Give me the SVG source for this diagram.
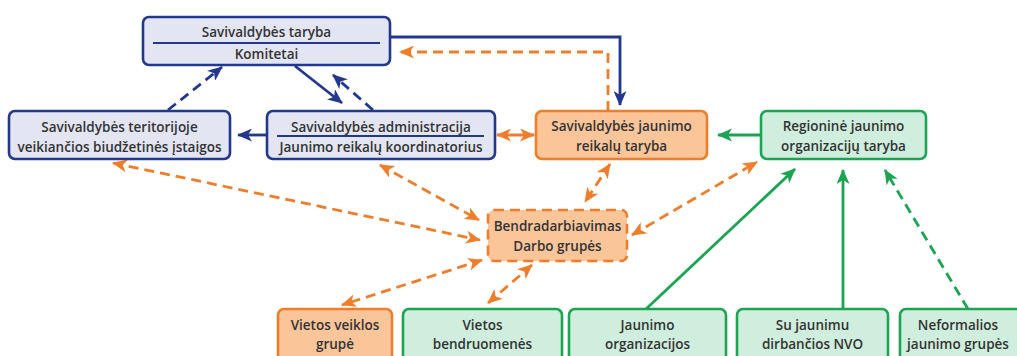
<svg xmlns="http://www.w3.org/2000/svg" width="1017" height="356" viewBox="0 0 1017 356">
<defs>
<style>
.t{font-family:"Open Sans","Noto Sans","Liberation Sans",sans-serif;font-weight:600;font-size:13.5px;fill:#333333;text-anchor:middle}
.bb{fill:#e3e5f3;stroke:#22388f;stroke-width:2.6}
.ob{fill:#fbc59a;stroke:#f07d2a;stroke-width:2.6}
.gb{fill:#cfeedd;stroke:#1ba552;stroke-width:2.6}
.bl{stroke:#22388f;stroke-width:2.8;fill:none}
.ol{stroke:#f07d2a;stroke-width:2.8;fill:none}
.gl{stroke:#1ba552;stroke-width:2.8;fill:none}
.d{stroke-dasharray:10 6}
</style>
<marker id="ab" viewBox="0 0 15 13" refX="14" refY="6.5" markerWidth="15" markerHeight="13" markerUnits="userSpaceOnUse" orient="auto-start-reverse"><path d="M0,0 L15,6.5 L0,13 L4,6.5 z" fill="#22388f"/></marker>
<marker id="ao" viewBox="0 0 15 13" refX="14" refY="6.5" markerWidth="15" markerHeight="13" markerUnits="userSpaceOnUse" orient="auto-start-reverse"><path d="M0,0 L15,6.5 L0,13 L4,6.5 z" fill="#f07d2a"/></marker>
<marker id="ag" viewBox="0 0 15 13" refX="14" refY="6.5" markerWidth="15" markerHeight="13" markerUnits="userSpaceOnUse" orient="auto-start-reverse"><path d="M0,0 L15,6.5 L0,13 L4,6.5 z" fill="#1ba552"/></marker>
</defs>
<rect width="1017" height="356" fill="#ffffff"/>
<g id="connectors">
<path class="bl" d="M390,37 H620 V105" marker-end="url(#ab)"/>
<path class="ol d" d="M608,111 V52 H400" marker-end="url(#ao)"/>
<path class="bl" d="M295,66 L342,103" marker-end="url(#ab)"/>
<path class="bl d" d="M373,110 L333,75" marker-end="url(#ab)"/>
<path class="bl d" d="M168,110 L222,67" marker-end="url(#ab)"/>
<path class="bl" d="M267,135 H238" marker-end="url(#ab)"/>
<path class="ol" d="M497,135 H534" marker-start="url(#ao)" marker-end="url(#ao)"/>
<path class="gl" d="M761,135 H718" marker-end="url(#ag)"/>
<path class="ol d" d="M113,163 L480,240" marker-start="url(#ao)" marker-end="url(#ao)"/>
<path class="ol d" d="M380,165 L479,220" marker-start="url(#ao)" marker-end="url(#ao)"/>
<path class="ol d" d="M482,260 L342,305" marker-start="url(#ao)" marker-end="url(#ao)"/>
<path class="ol d" d="M532,265 L488,303" marker-start="url(#ao)" marker-end="url(#ao)"/>
<path class="ol d" d="M610,164 L585,202" marker-start="url(#ao)" marker-end="url(#ao)"/>
<path class="ol d" d="M632,235 L757,162" marker-start="url(#ao)" marker-end="url(#ao)"/>
<path class="gl" d="M646,309 L795,169" marker-end="url(#ag)"/>
<path class="gl" d="M843,309 V170" marker-end="url(#ag)"/>
<path class="gl d" d="M968,309 L885,170" marker-end="url(#ag)"/>
</g>
<g id="taryba">
<rect class="bb" x="143" y="17" width="247" height="48" rx="6"/>
<line x1="153" y1="43" x2="380" y2="43" stroke="#22388f" stroke-width="2.2"/>
<text class="t" x="266.5" y="37">Savivaldybės taryba</text>
<text class="t" x="266.5" y="59">Komitetai</text>
</g>
<g id="istaigos">
<rect class="bb" x="9" y="111" width="221" height="48" rx="6"/>
<text class="t" x="119.5" y="132">Savivaldybės teritorijoje</text>
<text class="t" x="119.5" y="152">veikiančios biudžetinės įstaigos</text>
</g>
<g id="administracija">
<rect class="bb" x="267" y="111" width="228" height="48" rx="6"/>
<line x1="277" y1="136" x2="484" y2="136" stroke="#22388f" stroke-width="2.2"/>
<text class="t" x="381" y="132">Savivaldybės administracija</text>
<text class="t" x="381" y="152">Jaunimo reikalų koordinatorius</text>
</g>
<g id="jaunimo-taryba">
<rect class="ob" x="536" y="111" width="171" height="48" rx="6"/>
<text class="t" x="621.5" y="131">Savivaldybės jaunimo</text>
<text class="t" x="621.5" y="151">reikalų taryba</text>
</g>
<g id="regionine">
<rect class="gb" x="761" y="111" width="165" height="48" rx="6"/>
<text class="t" x="843.5" y="131">Regioninė jaunimo</text>
<text class="t" x="843.5" y="151">organizacijų taryba</text>
</g>
<g id="bendradarbiavimas">
<rect class="ob d" x="488" y="210" width="139" height="51" rx="6"/>
<text class="t" x="557.5" y="231">Bendradarbiavimas</text>
<text class="t" x="557.5" y="251">Darbo grupės</text>
</g>
<g id="vvg">
<rect class="ob" x="278" y="309" width="114" height="60" rx="6"/>
<text class="t" x="335" y="330">Vietos veiklos</text>
<text class="t" x="335" y="349">grupė</text>
</g>
<g id="bendruomenes">
<rect class="gb" x="403" y="309" width="159" height="60" rx="6"/>
<text class="t" x="482.5" y="330">Vietos</text>
<text class="t" x="482.5" y="349">bendruomenės</text>
</g>
<g id="organizacijos">
<rect class="gb" x="569" y="309" width="157" height="60" rx="6"/>
<text class="t" x="647.5" y="330">Jaunimo</text>
<text class="t" x="647.5" y="349">organizacijos</text>
</g>
<g id="nvo">
<rect class="gb" x="737" y="309" width="151" height="60" rx="6"/>
<text class="t" x="812.5" y="330">Su jaunimu</text>
<text class="t" x="812.5" y="349">dirbančios NVO</text>
</g>
<g id="neformalios">
<rect class="gb" x="900" y="309" width="130" height="60" rx="6"/>
<text class="t" x="958" y="330">Neformalios</text>
<text class="t" x="958" y="349">jaunimo grupės</text>
</g>
</svg>
